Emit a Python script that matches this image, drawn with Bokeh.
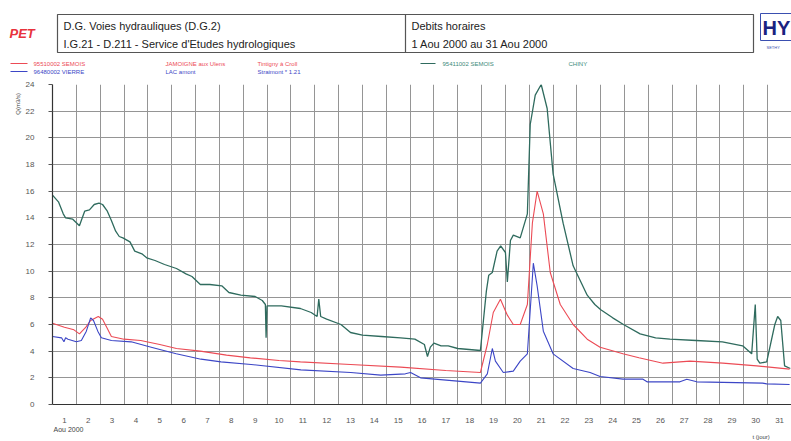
from bokeh.plotting import figure
from bokeh.layouts import column, row
from bokeh.models import Range1d, FixedTicker, Label
from bokeh.embed import file_html
from bokeh.resources import INLINE
import math

# ---------------- data (day of August 2000, discharge m3/s) ----------------
chiny_day = [1.00, 1.25, 1.45, 1.55, 1.85, 2.13, 2.25, 2.35, 2.55, 2.75, 2.95, 3.10, 3.30, 3.47,
             3.65, 3.80, 3.95, 4.25, 4.45, 4.75, 4.95, 5.30, 5.70, 6.20, 6.60, 6.85, 7.20, 7.60,
             8.10, 8.40, 8.90, 9.50, 9.80, 9.93, 9.96, 10.00, 10.60, 11.40, 11.85, 12.10, 12.17,
             12.25, 12.50, 13.10, 13.50, 14.00, 14.80, 15.60, 16.20, 16.60, 16.73, 16.85, 17.00,
             17.30, 17.60, 18.00, 18.95, 19.20, 19.30, 19.45, 19.65, 19.80, 20.00, 20.08, 20.21,
             20.33, 20.62, 20.92, 21.04, 21.25, 21.50, 21.75, 22.00, 22.42, 22.84, 23.43, 23.75,
             24.00, 24.50, 24.95, 25.65, 26.30, 26.90, 28.00, 29.10, 29.95, 30.33, 30.48, 30.56,
             30.67, 30.96, 31.30, 31.42, 31.55, 31.71, 31.95]
chiny_q = [15.7, 15.2, 14.3, 14.0, 13.9, 13.4, 14.0, 14.5, 14.6, 15.0, 15.1, 15.0, 14.5, 13.8,
           13.0, 12.6, 12.5, 12.2, 11.5, 11.3, 11.0, 10.8, 10.5, 10.2, 9.8, 9.6, 9.0, 9.0,
           8.9, 8.4, 8.2, 8.1, 7.8, 7.5, 5.0, 7.4, 7.4, 7.2, 6.9, 6.6, 7.9,
           6.6, 6.4, 6.0, 5.4, 5.2, 5.1, 5.0, 4.9, 4.5, 3.6, 4.3, 4.6,
           4.4, 4.4, 4.2, 4.05, 8.5, 9.7, 9.9, 11.5, 11.9, 11.4, 9.2, 12.3,
           12.7, 12.5, 14.3, 21.0, 23.2, 24.0, 22.2, 17.3, 13.6, 10.4, 8.2, 7.5,
           7.1, 6.5, 6.0, 5.3, 5.0, 4.9, 4.8, 4.7, 4.4, 3.8, 7.5, 3.4,
           3.1, 3.2, 6.0, 6.6, 6.3, 2.9, 2.7]

jamoigne_day = [1.00, 1.50, 1.90, 2.13, 2.40, 2.60, 2.92, 3.10, 3.30, 3.47, 4.00, 4.70, 5.50,
                6.20, 7.20, 8.30, 9.30, 10.50, 11.40, 13.50, 15.60, 17.50, 18.95, 19.24, 19.49,
                19.79, 20.08, 20.33, 20.62, 20.92, 21.13, 21.33, 21.59, 21.88, 22.30, 22.84,
                23.43, 23.97, 24.93, 25.60, 26.61, 27.74, 29.12, 30.54, 31.92]
jamoigne_q = [6.1, 5.8, 5.6, 5.3, 5.8, 6.3, 6.6, 6.4, 5.7, 5.1, 4.9, 4.8, 4.5,
              4.2, 4.0, 3.7, 3.5, 3.3, 3.2, 3.0, 2.8, 2.55, 2.4, 4.5, 6.9,
              7.9, 6.7, 6.0, 6.0, 7.5, 13.6, 16.0, 14.3, 9.9, 7.5, 6.0,
              4.9, 4.3, 3.8, 3.5, 3.1, 3.25, 3.1, 2.9, 2.65]

straimont_day = [1.00, 1.38, 1.48, 1.55, 1.65, 2.00, 2.21, 2.42, 2.60, 2.72, 2.90, 3.05, 3.47,
                 4.30, 5.14, 6.19, 7.23, 8.07, 9.33, 11.42, 13.51, 14.77, 15.80, 16.02, 16.44,
                 18.95, 19.24, 19.45, 19.58, 19.91, 20.33, 20.62, 20.92, 21.17, 21.33, 21.59,
                 22.00, 22.84, 23.55, 23.97, 24.93, 25.77, 25.94, 27.32, 27.61, 28.03, 30.79,
                 30.96, 31.92]
straimont_q = [5.1, 5.0, 4.7, 5.0, 4.9, 4.7, 4.8, 5.5, 6.5, 6.3, 5.5, 5.0, 4.8,
               4.7, 4.3, 3.8, 3.4, 3.2, 3.0, 2.6, 2.4, 2.2, 2.3, 2.4, 2.0,
               1.6, 2.3, 4.2, 3.25, 2.4, 2.5, 3.25, 3.8, 10.6, 8.9, 5.5,
               3.8, 2.7, 2.4, 2.1, 1.9, 1.9, 1.7, 1.7, 1.9, 1.7, 1.6,
               1.55, 1.5]

day_labels = [str(d) for d in range(1, 32)]
y_ticks = list(range(0, 25, 2))

GREEN = "#2f6b5e"
RED = "#ec4b55"
BLUE = "#3c46c6"
FONT = "Liberation Sans"


def blank(width, height):
    f = figure(width=width, height=height, x_range=Range1d(0, width),
               y_range=Range1d(height, 0), x_axis_type=None, y_axis_type=None,
               output_backend="svg", toolbar_location=None, min_border=0)
    f.outline_line_color = None
    return f


def put(f, x, y, t, size, color, style="normal", align="left", angle=0.0):
    f.add_layout(Label(x=x, y=y, text=t, text_font=FONT, text_font_size=size,
                       text_color=color, text_font_style=style, text_align=align,
                       text_baseline="middle", angle=angle))


# ---------------- header (y 0..78) ----------------
h = blank(791, 78)
h.quad(left=[57], right=[753], top=[14], bottom=[52], fill_color=None,
       line_color="#555555", line_width=1.2)
h.segment(x0=[405], y0=[14], x1=[405], y1=[52], line_color="#555555", line_width=1.2)
h.quad(left=[760], right=[791], top=[13], bottom=[40], fill_color=None,
       line_color="#3a4fb0", line_width=1)

put(h, 63, 25, "D.G. Voies hydrauliques (D.G.2)", "11px", "#222222")
put(h, 63, 43, "I.G.21 - D.211 - Service d'Etudes hydrologiques", "11px", "#222222")
put(h, 411, 25, "Debits horaires", "11px", "#222222")
put(h, 411, 43, "1 Aou 2000 au 31 Aou 2000", "11px", "#222222")
put(h, 9, 33, "PET", "13px", "#e8323c", "bold italic")
put(h, 762, 27, "HY", "20px", "#1a2280", "bold")
put(h, 766, 47, "SETHY", "4px", "#3a4fb0")

h.line(x=[10, 27], y=[63, 63], color=RED, line_width=1)
h.line(x=[10, 27], y=[71, 71], color=BLUE, line_width=1)
h.line(x=[420, 435], y=[63, 63], color=GREEN, line_width=1)
put(h, 33, 63, "95510002 SEMOIS", "6px", RED)
put(h, 165, 63, "JAMOIGNE aux Ulens", "6px", RED)
put(h, 257, 63, "Tintigny à Croll", "6px", RED)
put(h, 33, 71, "96480002 VIERRE", "6px", BLUE)
put(h, 165, 71, "LAC amont", "6px", BLUE)
put(h, 257, 71, "Straimont * 1.21", "6px", BLUE)
put(h, 442, 63, "95411002 SEMOIS", "6px", "#3d8a7a")
put(h, 568, 63, "CHINY", "6px", "#3d8a7a")

# ---------------- left strip (x 0..22, y 78..425) ----------------
lf = blank(22, 347)
put(lf, 17, 21, "Q(m3/s)", "6px", "#444444", align="center", angle=math.pi / 2)

# ---------------- main chart (x 22..791, y 78..425) ----------------
p = figure(width=769, height=347, x_range=Range1d(1, 32), y_range=Range1d(0, 24),
           output_backend="svg", toolbar_location=None,
           min_border_left=29, min_border_right=0, min_border_top=6, min_border_bottom=16)
p.outline_line_color = None

centers = [d + 0.5 for d in range(1, 32)]
p.xaxis.ticker = FixedTicker(ticks=centers)
p.xaxis.major_label_overrides = {c: lab for c, lab in zip(centers, day_labels)}
p.xgrid.ticker = FixedTicker(ticks=list(range(1, 33)))
p.yaxis.ticker = FixedTicker(ticks=y_ticks)
p.ygrid.ticker = FixedTicker(ticks=y_ticks)

for g in (p.xgrid, p.ygrid):
    g.grid_line_color = "#959595"
    g.grid_line_width = 1
    g.grid_line_alpha = 1

for ax in (p.xaxis, p.yaxis):
    ax.axis_line_color = "#333333"
    ax.axis_line_width = 1.2
    ax.minor_tick_line_color = None
    ax.major_label_text_font = FONT
    ax.major_label_text_font_size = "8px"
    ax.major_label_text_color = "#555555"

p.xaxis.major_tick_line_color = None
p.xaxis.major_label_standoff = 7
p.yaxis.major_tick_line_color = "#555555"
p.yaxis.major_tick_out = 4
p.yaxis.major_tick_in = 0
p.yaxis.major_label_standoff = 14

p.line(chiny_day, chiny_q, color=GREEN, line_width=1.3)
p.line(jamoigne_day, jamoigne_q, color=RED, line_width=1.1)
p.line(straimont_day, straimont_q, color=BLUE, line_width=1.1)

# ---------------- bottom strip (y 425..441) ----------------
b = blank(791, 16)
put(b, 53, 4, "Aou 2000", "7px", "#444444")
put(b, 752, 11, "t (jour)", "6px", "#444444")

layout = column(h, row(lf, p), b)
open("out.html", "w").write(file_html(layout, INLINE))
